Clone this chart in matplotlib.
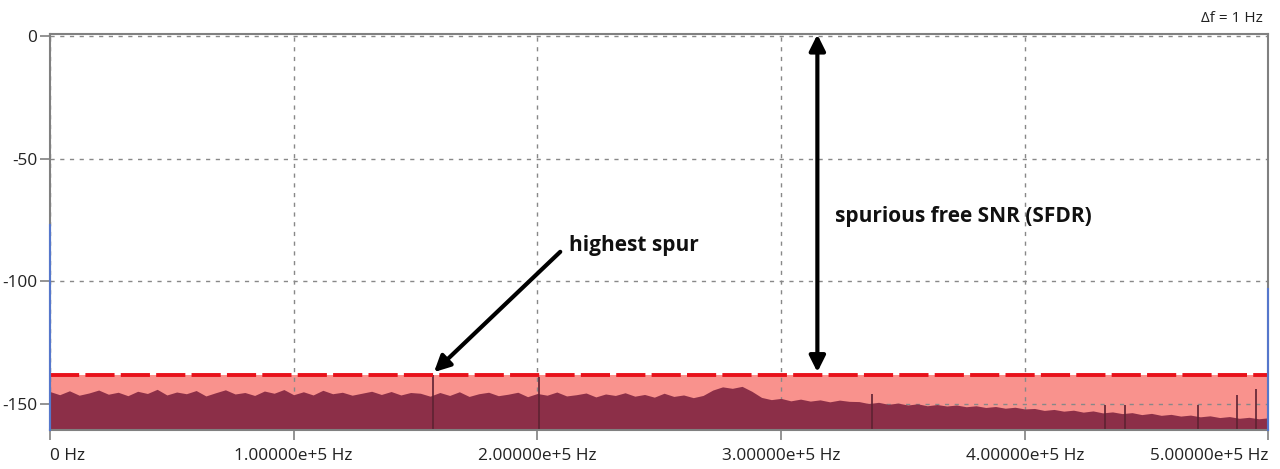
import numpy as np
import matplotlib
matplotlib.use("Agg")
import matplotlib.pyplot as plt

# noise-floor envelope in dB, one value every 4 kHz from 0 to 500 kHz
env_0_148 = [-144.9, -146.2, -144.6, -146.4, -145.5, -144.3, -146.0, -145.2, -146.6, -144.8,
             -145.7, -144.0, -146.3, -145.1, -145.8, -144.5, -146.7, -145.4, -144.2, -145.9,
             -145.3, -146.5, -144.7, -145.6, -144.1, -146.2, -145.0, -146.3, -144.4, -145.8,
             -145.2, -146.4, -145.6, -144.8, -146.1, -144.9, -146.3, -145.3]
env_152_268 = [-145.6, -146.8, -145.3, -146.5, -145.0, -146.9, -145.8, -145.2, -146.6, -146.0,
               -145.2, -147.0, -145.7, -146.4, -145.1, -146.7, -146.2, -145.5, -147.1, -145.9,
               -146.5, -145.4, -146.8, -146.1, -147.2, -145.6, -146.9, -146.3, -147.4, -146.5]
env_272_288 = [-144.3, -143.0, -143.6, -142.8, -144.8]
env_292_328 = [-147.3, -148.2, -147.7, -148.7, -148.0, -148.8, -148.3, -149.1, -148.4, -148.9]
env_332_400 = [-149.0, -149.8, -149.3, -150.1, -149.6, -150.4, -149.9, -150.7, -150.2, -150.8,
               -150.4, -151.1, -150.7, -151.4, -151.0, -151.7, -151.3, -152.0]
env_404_500 = [-151.8, -152.6, -152.2, -152.9, -152.5, -153.3, -152.8, -153.6, -153.2, -153.9,
               -153.5, -154.3, -153.8, -154.6, -154.2, -154.9, -154.5, -155.2, -154.8, -155.5,
               -155.1, -155.8, -155.4, -156.0, -155.6]
noise_top = np.array(env_0_148 + env_152_268 + env_272_288 + env_292_328 + env_332_400 + env_404_500)
freq = np.arange(len(noise_top)) * 4e3
noise_bottom = -160.2

# spurs (Hz, dB)
spur_f = [1.572e5, 2.007e5, 3.374e5, 4.331e5, 4.413e5, 4.709e5, 4.869e5, 4.947e5]
spur_db = [-138.0, -139.0, -146.0, -150.5, -150.5, -150.5, -146.5, -144.0]

sfdr_level = -138.0
edge_f = [0.0, 5e5]
edge_db = [-77.0, -103.0]

xticks = [0, 1e5, 2e5, 3e5, 4e5, 5e5]
xlabels = ["0 Hz", "1.00000e+5 Hz", "2.00000e+5 Hz", "3.00000e+5 Hz", "4.00000e+5 Hz", "5.00000e+5 Hz"]
yticks = [0, -50, -100, -150]

plt.rcParams["font.family"] = ["Open Sans", "DejaVu Sans"]
plt.rcParams["axes.unicode_minus"] = False

fig = plt.figure(figsize=(12.8, 4.69), dpi=100)
ax = fig.add_axes([0.039, 0.083, 0.952, 0.845])
ymin, ymax = -160.6, 0.8
ax.set_xlim(0, 5e5)
ax.set_ylim(ymin, ymax)

ax.axhspan(ymin, sfdr_level, color="#f9928d", zorder=0.2, lw=0)
ax.fill_between(freq, noise_bottom, noise_top, color="#8c2f48", lw=0, zorder=1)
ax.vlines(spur_f, noise_bottom, spur_db, color="#5e2232", lw=1.2, zorder=1.1)
ax.axhline(sfdr_level, color="#e8111a", lw=2.8, dashes=(7.5, 1.6), zorder=2)
for f, d in zip(edge_f, edge_db):
    ax.plot([f, f], [ymin, d], color="#5577cc", lw=1.5, zorder=3, clip_on=False)

ax.set_axisbelow(True)
ax.grid(True, color="#888888", lw=1, dashes=(3, 4))

ax.set_xticks(xticks)
ax.set_xticklabels(xlabels)
ax.set_yticks(yticks)
ax.tick_params(axis="both", colors="#808080", labelcolor="#222222", labelsize=12.4, length=7, width=1.2)
ax.tick_params(axis="x", pad=6)
ax.tick_params(axis="y", pad=2)
tl = ax.get_xticklabels()
tl[0].set_ha("left")
tl[-1].set_ha("right")
for s in ax.spines.values():
    s.set_color("#808080")
    s.set_linewidth(1.5)

ax.annotate("", xy=(3.149e5, -137.0), xytext=(3.149e5, 0.5),
            arrowprops=dict(arrowstyle="<|-|>", color="black", lw=3, mutation_scale=24, shrinkA=0, shrinkB=0))
ax.text(3.222e5, -73.5, "spurious free SNR (SFDR)", fontsize=15, fontweight="bold", va="center", ha="left", color="#111111")

ax.annotate("", xy=(1.576e5, -137.0), xytext=(2.094e5, -88.0),
            arrowprops=dict(arrowstyle="-|>", color="black", lw=3, mutation_scale=24, shrinkA=0, shrinkB=0))
ax.text(2.13e5, -85.5, "highest spur", fontsize=15, fontweight="bold", va="center", ha="left", color="#111111")

fig.text(0.987, 0.96, "Δf = 1 Hz", fontsize=11, ha="right", va="center", color="#222222")

plt.savefig("out.png", dpi=100)
